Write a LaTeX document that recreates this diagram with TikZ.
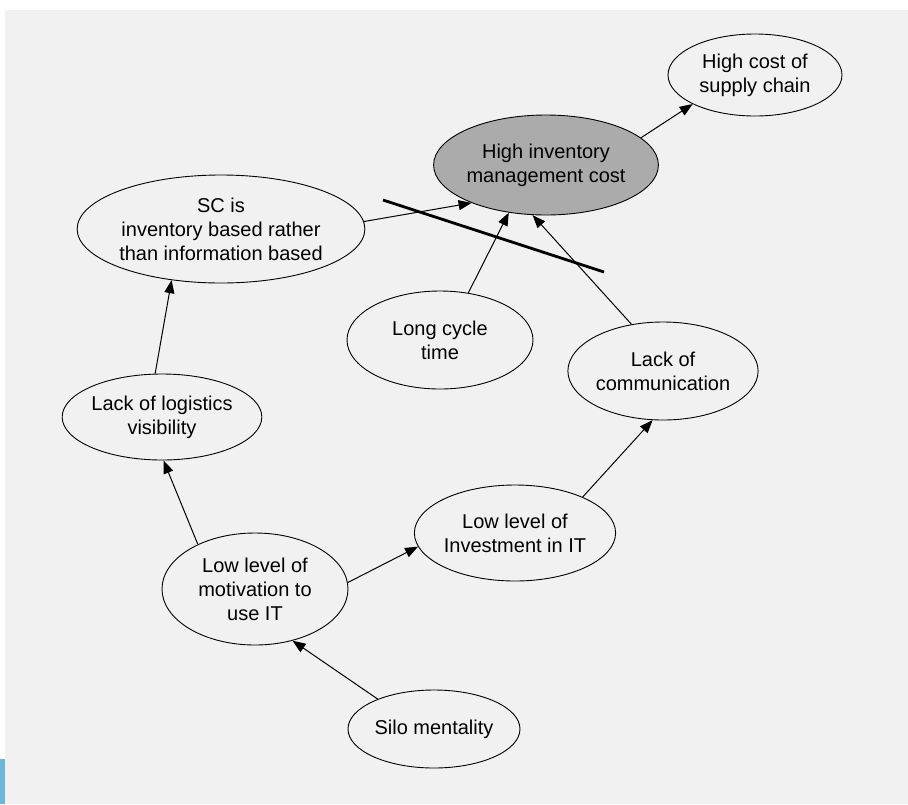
\documentclass[tikz,border=0pt]{standalone}
\usepackage{fontspec}
\setmainfont{Liberation Sans}
\usetikzlibrary{shapes.geometric,arrows.meta}
\definecolor{scangray}{HTML}{F1F1F1}
\definecolor{barblue}{HTML}{6BB6DA}
\begin{document}
\begin{tikzpicture}[x=1pt,y=-1pt]
        \tikzstyle{every node}=[ellipse,draw,line width=0.9pt,inner sep=0pt,align=center,font=\fontsize{20}{24}\selectfont]
        \tikzstyle{link}=[line width=1pt,-{Triangle[length=13pt,width=10pt]}]
        % page and scan background
        \useasboundingbox (0,0) rectangle (908,804);
        \fill[white] (0,0) rectangle (908,804);
        \fill[scangray] (5,10) rectangle (908,804);
        \fill[barblue] (0,759) rectangle (5,804);
        % causes
        \node[minimum width=174pt,minimum height=82pt] (cost) at (755,75) {High cost of\\supply chain};
        \node[minimum width=198pt,minimum height=100pt,fill=black!33] (inv) at (546,165) {High inventory\\management cost};
        \node[minimum width=248pt,minimum height=108pt] (sc) at (221,229) {SC is\\inventory based rather\\than information based};
        \node[minimum width=186pt,minimum height=98pt] (cycle) at (440,340) {Long cycle\\time};
        \node[minimum width=186pt,minimum height=98pt] (comm) at (663,371) {Lack of\\communication};
        \node[minimum width=174pt,minimum height=86pt] (logis) at (162,417) {Lack of logistics\\visibility};
        \node[minimum width=186pt,minimum height=112pt] (motiv) at (255,589) {Low level of\\motivation to\\use IT};
        \node[minimum width=186pt,minimum height=96pt] (invest) at (515,533) {Low level of\\Investment in IT};
        \node[minimum width=172pt,minimum height=78pt] (silo) at (434,729) {Silo mentality};
        % links
        \draw[link] (inv.16) -- (cost.205);
        \draw[link] (sc.3) -- (inv.207);
        \draw[link] (cycle.59) -- (inv.232);
        \draw[link] (comm.124) -- (inv.255);
        \draw[link] (logis.99) -- (sc.226);
        \draw[link] (motiv.142) -- (logis.272);
        \draw[link] (motiv.4) -- (invest.188);
        \draw[link] (invest.28) -- (comm.258);
        \draw[link] (silo.152) -- (motiv.306);
        % cut line
        \coordinate (cutA) at (383,200);
        \coordinate (cutB) at (604,272);
        \draw[line width=2.8pt] (cutA) -- (cutB);
    \end{tikzpicture}
\end{document}
